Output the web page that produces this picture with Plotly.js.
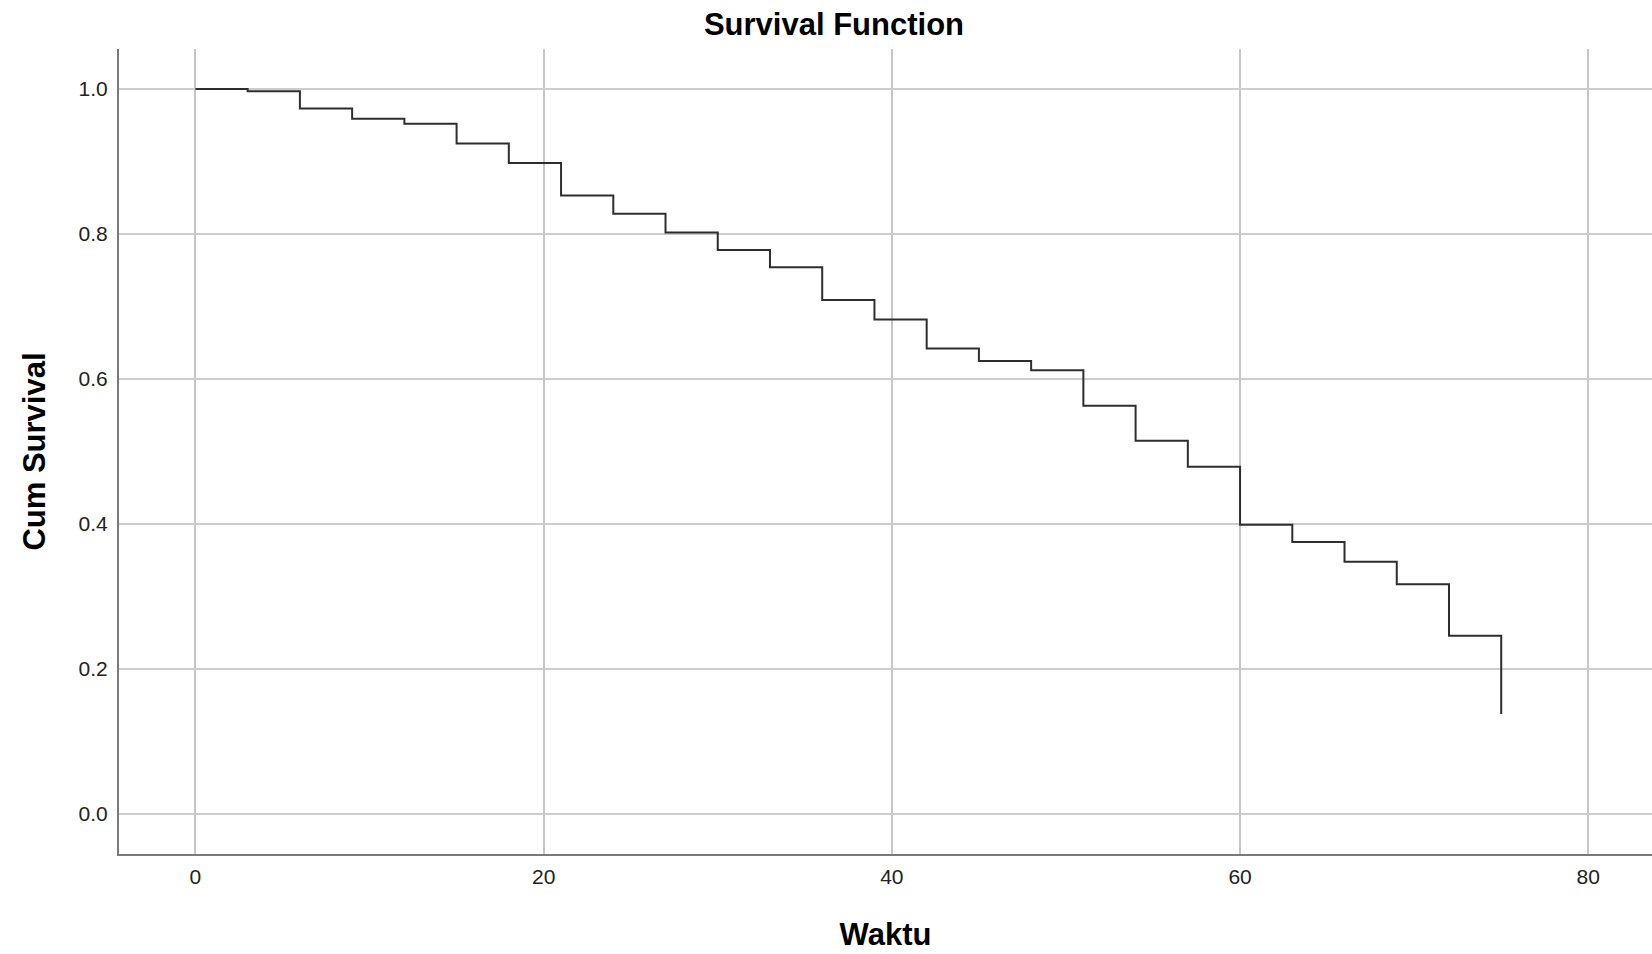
<!DOCTYPE html>
<html>
<head>
<meta charset="utf-8">
<script src="https://cdn.plot.ly/plotly-3.0.1.min.js"></script>
<style>
  html, body { margin: 0; padding: 0; background: #ffffff; }
  #chart { width: 1652px; height: 954px; }
</style>
</head>
<body>
<div id="chart"></div>
<script>
// Survival times (Waktu) and cumulative survival
var times = [0, 3, 6, 9, 12, 15, 18, 21, 24, 27, 30, 33, 36, 39, 42, 45, 48, 51, 54, 57, 60, 63, 66, 69, 72, 75];
var cumSurvival = [1.000, 0.997, 0.973, 0.959, 0.952, 0.925, 0.898, 0.853, 0.828, 0.802, 0.778, 0.754, 0.709, 0.682, 0.642, 0.625, 0.612, 0.563, 0.515, 0.479, 0.399, 0.375, 0.348, 0.317, 0.246, 0.138];
var xTicks = [0, 20, 40, 60, 80];
var yTicks = [0.0, 0.2, 0.4, 0.6, 0.8, 1.0];

var FONT = 'Liberation Sans, Arial, sans-serif';

var trace = {
  x: times,
  y: cumSurvival,
  type: 'scatter',
  mode: 'lines',
  line: { shape: 'hv', color: '#2e2e2e', width: 2 },
  hoverinfo: 'x+y',
  showlegend: false
};

var layout = {
  width: 1652,
  height: 954,
  paper_bgcolor: '#ffffff',
  plot_bgcolor: '#ffffff',
  margin: { l: 119, r: 0, t: 49, b: 100 },
  title: {
    text: '<b>Survival Function</b>',
    font: { family: FONT, size: 31, color: '#000000' },
    xref: 'container', x: 834 / 1652, xanchor: 'center',
    yref: 'container', y: 1 - 24 / 954, yanchor: 'middle'
  },
  xaxis: {
    range: [-4.39, 83.66],
    tickmode: 'array',
    tickvals: xTicks,
    ticktext: xTicks.map(String),
    ticks: '',
    ticklabelstandoff: 3,
    tickfont: { family: FONT, size: 21, color: '#222222' },
    showgrid: true,
    gridcolor: '#c6c6c6',
    gridwidth: 1.5,
    zeroline: false,
    showline: true,
    linecolor: '#7a7a7a',
    linewidth: 2,
    title: {
      text: '<b>Waktu</b>',
      font: { family: FONT, size: 31, color: '#000000' },
      standoff: 36
    },
    fixedrange: true
  },
  yaxis: {
    range: [-0.0552, 1.0552],
    tickmode: 'array',
    tickvals: yTicks,
    ticktext: yTicks.map(function (v) { return v.toFixed(1); }),
    ticks: '',
    ticklabelstandoff: 5,
    tickfont: { family: FONT, size: 21, color: '#222222' },
    showgrid: true,
    gridcolor: '#cdcdcd',
    gridwidth: 2,
    zeroline: false,
    showline: true,
    linecolor: '#7a7a7a',
    linewidth: 2,
    title: {
      text: '<b>Cum Survival</b>',
      font: { family: FONT, size: 31, color: '#000000' },
      standoff: 24
    },
    fixedrange: true
  }
};

Plotly.newPlot('chart', [trace], layout, { displayModeBar: false, staticPlot: false });
</script>
</body>
</html>
